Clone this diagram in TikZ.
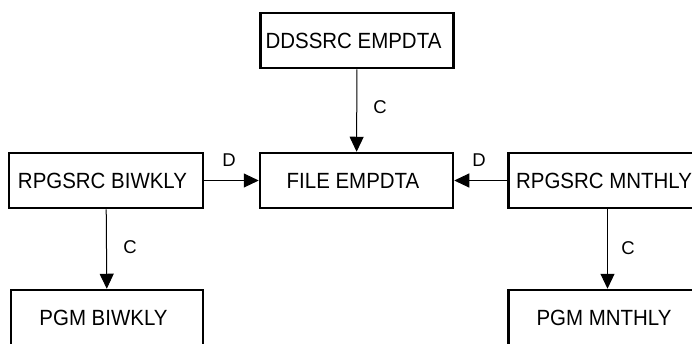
\documentclass[tikz,border=0pt]{standalone}
\usepackage{fontspec}
\setmainfont{Liberation Sans}
\newfontfamily\boxfont[FakeStretch=0.93]{Liberation Sans}
\usetikzlibrary{arrows.meta}
\tikzset{
  box/.style={draw, line width=2.5pt, minimum width=193pt, minimum height=55pt, inner sep=0pt,
    font=\boxfont\fontsize{22pt}{24pt}\selectfont},
  conn/.style={line width=1pt, -{Triangle[length=15pt,width=14pt]}},
  lbl/.style={inner sep=0pt, font=\fontsize{18.5pt}{20pt}\selectfont}
}
\newcommand{\bt}[1]{#1\kern7pt}
\begin{document}
\begin{tikzpicture}[x=1pt,y=-1pt]
\useasboundingbox (0,0) rectangle (692,343);
\clip (0,0) rectangle (692,343);
\node[box] (dd) at (357,40.5) {\bt{DDSSRC EMPDTA}};
\node[box] (fe) at (356.5,180.5) {\bt{FILE EMPDTA}};
\node[box, minimum width=194pt] (rb) at (106,180.5) {\bt{RPGSRC BIWKLY}};
\node[box, minimum width=198pt] (rm) at (607.5,180.5) {\bt{RPGSRC MNTHLY}};
\node[box, minimum width=192pt] (pb) at (107,317.5) {\bt{PGM BIWKLY}};
\node[box, minimum width=198pt] (pm) at (607.5,317.5) {\bt{PGM MNTHLY}};
\draw[conn] (dd) -- (fe);
\draw[conn] (rb) -- (fe);
\draw[conn] (rm) -- (fe);
\draw[conn] (rb) -- (pb);
\draw[conn] (rm) -- (pm);
\node[lbl] (c1) at (380,106.7) {C};
\node[lbl] (d1) at (229,160) {D};
\node[lbl] (d2) at (479,160) {D};
\node[lbl] (c2) at (130,247.5) {C};
\node[lbl] (c3) at (628,248) {C};
\end{tikzpicture}
\end{document}
